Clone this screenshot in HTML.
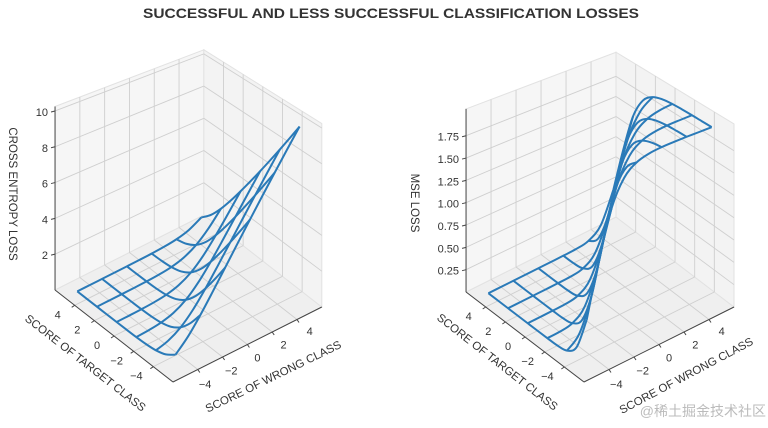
<!DOCTYPE html>
<html><head><meta charset="utf-8"><style>
html,body{margin:0;padding:0;background:#fff;}
svg{display:block;font-family:"Liberation Sans","Noto Sans CJK SC",sans-serif;}
</style></head><body>
<svg id="fig" width="768" height="428" viewBox="0 0 768 428">
<text x="391" y="18" text-anchor="middle" font-size="13.5" font-weight="bold" fill="#333" textLength="496" lengthAdjust="spacingAndGlyphs">SUCCESSFUL AND LESS SUCCESSFUL CLASSIFICATION LOSSES</text>
<g id="left"></g>
<g id="right"></g>
<text x="766" y="416" text-anchor="end" font-size="14" fill="#bbb">@稀土掘金技术社区</text>
</svg>
<script>
const wVals = [-5,-4,-3,-2,-1,0,1,2,3,4,5];
const tVals = [-5,-4,-3,-2,-1,0,1,2,3,4,5];
const xTicks = [-4,-2,0,2,4];
const yTicks = [-4,-2,0,2,4];
const ceTicks = [2,4,6,8,10];
const ceTickLabels = ["2","4","6","8","10"];
const mseTicks = [0.25,0.5,0.75,1.0,1.25,1.5,1.75];
const mseTickLabels = ["0.25","0.50","0.75","1.00","1.25","1.50","1.75"];
// rows: target class score (tVals), cols: wrong class score (wVals)
const ceLoss = [
[0.693,1.313,2.127,3.049,4.018,5.007,6.002,7.001,8,9,10],
[0.313,0.693,1.313,2.127,3.049,4.018,5.007,6.002,7.001,8,9],
[0.127,0.313,0.693,1.313,2.127,3.049,4.018,5.007,6.002,7.001,8],
[0.049,0.127,0.313,0.693,1.313,2.127,3.049,4.018,5.007,6.002,7.001],
[0.018,0.049,0.127,0.313,0.693,1.313,2.127,3.049,4.018,5.007,6.002],
[0.007,0.018,0.049,0.127,0.313,0.693,1.313,2.127,3.049,4.018,5.007],
[0.002,0.007,0.018,0.049,0.127,0.313,0.693,1.313,2.127,3.049,4.018],
[0.001,0.002,0.007,0.018,0.049,0.127,0.313,0.693,1.313,2.127,3.049],
[0,0.001,0.002,0.007,0.018,0.049,0.127,0.313,0.693,1.313,2.127],
[0,0,0.001,0.002,0.007,0.018,0.049,0.127,0.313,0.693,1.313],
[0,0,0,0.001,0.002,0.007,0.018,0.049,0.127,0.313,0.693]];
const mseLoss = [
[0.5,1.069,1.552,1.816,1.929,1.973,1.99,1.996,1.999,1.999,2],
[0.145,0.5,1.069,1.552,1.816,1.929,1.973,1.99,1.996,1.999,1.999],
[0.028,0.145,0.5,1.069,1.552,1.816,1.929,1.973,1.99,1.996,1.999],
[0.004,0.028,0.145,0.5,1.069,1.552,1.816,1.929,1.973,1.99,1.996],
[0.001,0.004,0.028,0.145,0.5,1.069,1.552,1.816,1.929,1.973,1.99],
[0,0.001,0.004,0.028,0.145,0.5,1.069,1.552,1.816,1.929,1.973],
[0,0,0.001,0.004,0.028,0.145,0.5,1.069,1.552,1.816,1.929],
[0,0,0,0.001,0.004,0.028,0.145,0.5,1.069,1.552,1.816],
[0,0,0,0,0.001,0.004,0.028,0.145,0.5,1.069,1.552],
[0,0,0,0,0,0.001,0.004,0.028,0.145,0.5,1.069],
[0,0,0,0,0,0,0.001,0.004,0.028,0.145,0.5]];

const NS = "http://www.w3.org/2000/svg";
function mk(parent, tag, attrs){const e=document.createElementNS(NS,tag);for(const k in attrs)e.setAttribute(k,attrs[k]);parent.appendChild(e);return e;}

function drawChart(g, cfg){
  const L=-6, H=6;
  function P(w,t,z){
    const u=(w-L)/(H-L), v=(t-L)/(H-L), f=1.1-0.2*(u+v)/2;
    return [cfg.F[0]+(w-L)*cfg.ew[0]+(t-L)*cfg.et[0], cfg.F[1]+(w-L)*cfg.ew[1]+(t-L)*cfg.et[1]-z*cfg.ez*f];
  }
  const pts=a=>a.map(p=>p.join(',')).join(' ');
  const Z=cfg.zmax;
  // panes
  let e;
  e=mk(g,'polygon',{points:pts([P(L,L,0),P(H,L,0),P(H,H,0),P(L,H,0)]),fill:'#efefef',stroke:'#e2e2e2'});
  
  
  e=mk(g,'polygon',{points:pts([P(L,H,0),P(H,H,0),P(H,H,Z),P(L,H,Z)]),fill:'#f6f6f6',stroke:'#e2e2e2'});
  
  
  e=mk(g,'polygon',{points:pts([P(H,L,0),P(H,H,0),P(H,H,Z),P(H,L,Z)]),fill:'#f3f3f3',stroke:'#e2e2e2'});
  
  
  const gl=(a,b,name)=>{const l=mk(g,'line',{x1:a[0],y1:a[1],x2:b[0],y2:b[1],stroke:'#cfcfcf','stroke-width':0.9});
    
    };
  xTicks.forEach(w=>{gl(P(w,L,0),P(w,H,0),'floor-gridline');gl(P(w,H,0),P(w,H,Z),'wall-gridline');});
  yTicks.forEach(t=>{gl(P(L,t,0),P(H,t,0),'floor-gridline');gl(P(H,t,0),P(H,t,Z),'wall-gridline');});
  cfg.zt.forEach(z=>{gl(P(L,H,z),P(H,H,z),'wall-gridline');gl(P(H,H,z),P(H,L,z),'wall-gridline');});
  // axis lines
  const ax=(a,b,name)=>{const l=mk(g,'line',{x1:a[0],y1:a[1],x2:b[0],y2:b[1],stroke:'#444','stroke-width':1});
    
    };
  ax(P(L,L,0),P(H,L,0),'x-axis-line');
  ax(P(L,L,0),P(L,H,0),'y-axis-line');
  ax(P(L,H,0),P(L,H,Z),'z-axis-line');
  // ticks + labels
  xTicks.forEach(w=>{const p=P(w,L,0);ax(p,[p[0]+2,p[1]+3],'x-tick');
    const s=(w-L)/(H-L);
    const tx=mk(g,'text',{x:p[0]+6+8*s,y:p[1]+19-4*s,'text-anchor':'middle','font-size':11,fill:'#333'});tx.textContent=String(w).replace('-','−');
    
    });
  yTicks.forEach(t=>{const p=P(L,t,0);ax(p,[p[0]-3,p[1]+2],'y-tick');
    const tx=mk(g,'text',{x:p[0]-17,y:p[1]+13,'text-anchor':'middle','font-size':11,fill:'#333'});tx.textContent=String(t).replace('-','−');
    
    });
  cfg.zt.forEach((z,i)=>{const p=P(L,H,z);ax(p,[p[0]-4,p[1]+1],'z-tick');
    const tx=mk(g,'text',{x:p[0]-7,y:p[1]+5,'text-anchor':'end','font-size':11,fill:'#333'});tx.textContent=cfg.ztl[i];
    
    });
  // axis titles
  const title=(txt,x,y,rot,name)=>{const tx=mk(g,'text',{x:x,y:y,'text-anchor':'middle','font-size':11.5,fill:'#333',transform:`rotate(${rot} ${x} ${y})`});tx.textContent=txt;
    
    };
  title('SCORE OF TARGET CLASS',cfg.yl[0],cfg.yl[1],38,'y-axis-title');
  title('SCORE OF WRONG CLASS',cfg.xl[0],cfg.xl[1],cfg.xl[2],'x-axis-title');
  title(cfg.zlab,cfg.zl[0],cfg.zl[1],90,'z-axis-title');
  // wireframe
  function curve(ps){
    let d=`M${ps[0][0]},${ps[0][1]}`;
    for(let i=0;i<ps.length-1;i++){
      const p0=ps[Math.max(0,i-1)],p1=ps[i],p2=ps[i+1],p3=ps[Math.min(ps.length-1,i+2)];
      const c1=[p1[0]+(p2[0]-p0[0])/6,p1[1]+(p2[1]-p0[1])/6],c2=[p2[0]-(p3[0]-p1[0])/6,p2[1]-(p3[1]-p1[1])/6];
      d+=` C${c1[0].toFixed(2)},${c1[1].toFixed(2)} ${c2[0].toFixed(2)},${c2[1].toFixed(2)} ${p2[0].toFixed(2)},${p2[1].toFixed(2)}`;
    }
    return d;
  }
  const data=cfg.data;
  for(let i=0;i<tVals.length;i+=2){
    const ps=wVals.map((w,j)=>P(w,tVals[i],data[i][j]));
    const p=mk(g,'path',{d:curve(ps),fill:'none',stroke:'#2a7ab8','stroke-width':2,'stroke-linejoin':'round'});
    
    
  }
  for(let j=0;j<wVals.length;j+=2){
    const ps=tVals.map((t,i)=>P(wVals[j],t,data[i][j]));
    const p=mk(g,'path',{d:curve(ps),fill:'none',stroke:'#2a7ab8','stroke-width':2,'stroke-linejoin':'round'});
    
    
  }
}
drawChart(document.getElementById('left'),{F:[173,382],ew:[12.4,-6.25],et:[-9.83,-7.67],ez:17.9,zmax:10.25,zt:ceTicks,ztl:ceTickLabels,data:ceLoss,
  zlab:'CROSS ENTROPY LOSS',zl:[9,194],yl:[83,366],xl:[275,380,-26]});
drawChart(document.getElementById('right'),{F:[584,382],ew:[12.5,-6.25],et:[-9.83,-7.5],ez:89.3,zmax:2.05,zt:mseTicks,ztl:mseTickLabels,data:mseLoss,
  zlab:'MSE LOSS',zl:[411,203],yl:[495,365],xl:[688,379,-28]});
</script>
</body></html>
